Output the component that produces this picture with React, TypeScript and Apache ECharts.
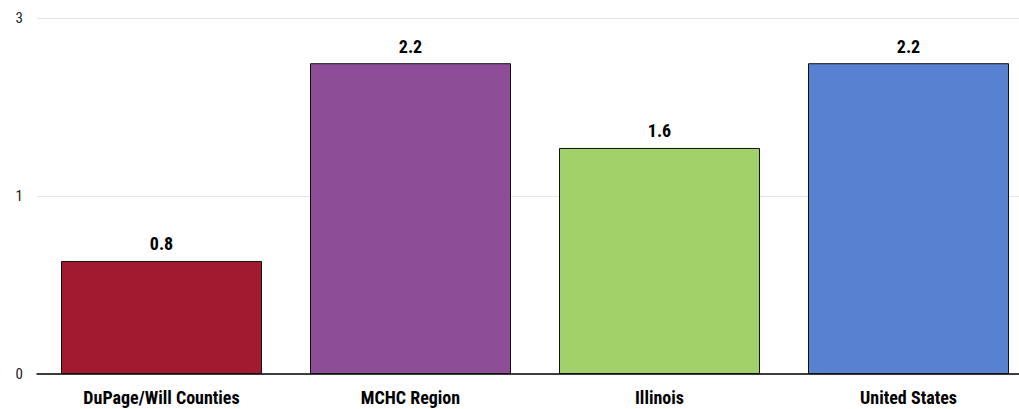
import React, { useEffect, useRef } from "react";
import * as echarts from "echarts";

const categories = ["DuPage/Will Counties", "MCHC Region", "Illinois", "United States"];
const values = [0.8, 2.2, 1.6, 2.2];
const colors = ["#A21A2F", "#8D4E97", "#A2D16A", "#5881D1"];
const axisMax = 2.52;
const axisInterval = 1.26;

const FONT = "'Liberation Sans Narrow', 'Arial Narrow', 'Roboto Condensed', Arial, sans-serif";

export default function App() {
  const ref = useRef<HTMLDivElement>(null);
  useEffect(() => {
    if (!ref.current) return;
    const chart = echarts.init(ref.current, null, { renderer: "svg" });
    chart.setOption({
      animation: false,
      grid: { left: 37, right: 0, top: 18, bottom: 35, containLabel: false },
      xAxis: {
        type: "category",
        data: categories,
        axisLine: { lineStyle: { color: "#000", width: 1.5 } },
        axisTick: { show: false },
        axisLabel: {
          color: "#000",
          fontFamily: FONT,
          fontWeight: "bold",
          fontSize: 18,
          margin: 14,
        },
      },
      yAxis: {
        type: "value",
        min: 0,
        max: axisMax,
        interval: axisInterval,
        axisLine: { show: false },
        axisTick: { show: false },
        splitLine: { lineStyle: { color: "#e6e6e6", width: 1 } },
        axisLabel: {
          color: "#222",
          fontFamily: FONT,
          fontSize: 15,
          margin: 14,
          formatter: (v: number) => String(Math.round(v)),
        },
      },
      series: [
        {
          type: "bar",
          barWidth: 201,
          data: values.map((v, i) => ({
            value: v,
            itemStyle: { color: colors[i], borderColor: "#111", borderWidth: 1 },
          })),
          label: {
            show: true,
            position: "top",
            distance: 8,
            color: "#000",
            fontFamily: FONT,
            fontWeight: "bold",
            fontSize: 18,
            formatter: (p: any) => p.value.toFixed(1),
          },
        },
      ],
    });
    return () => chart.dispose();
  }, []);
  return (
    <div style={{ position: "absolute", left: 0, top: 0, width: 1019, height: 409, overflow: "hidden", background: "#fff" }}>
      <div ref={ref} style={{ width: 1033, height: 409 }} />
    </div>
  );
}
